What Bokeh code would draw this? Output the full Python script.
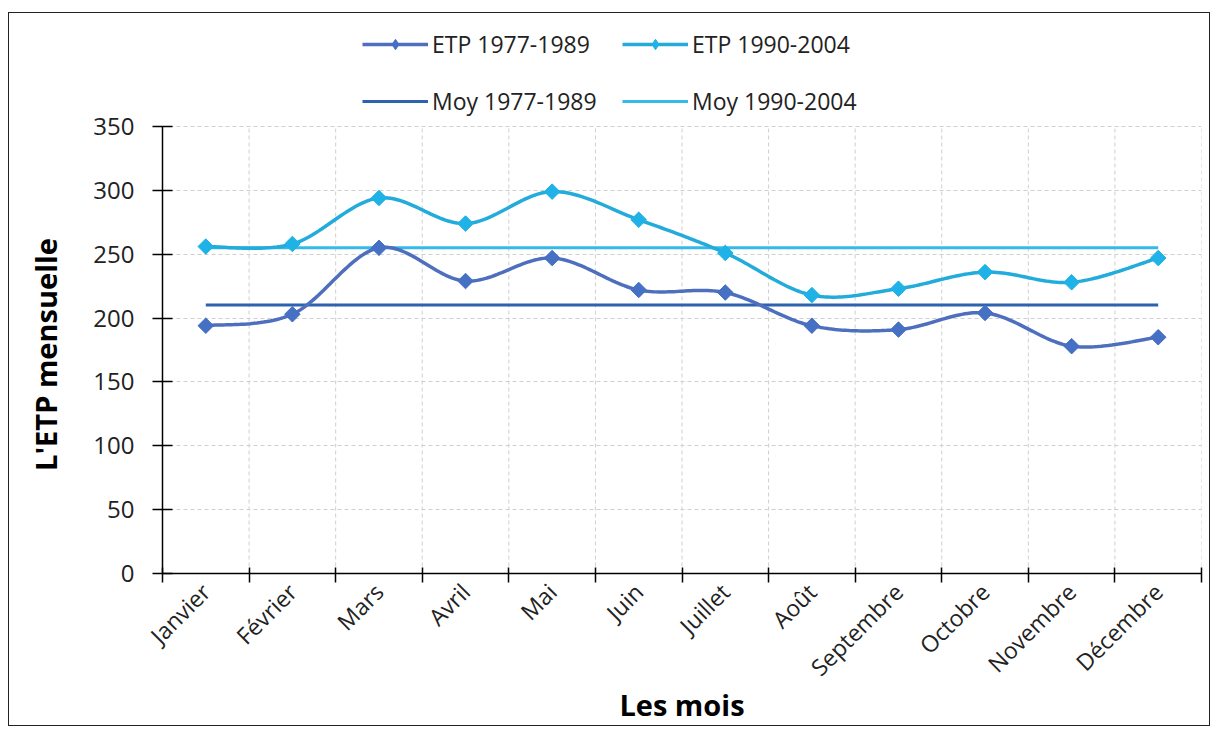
import numpy as np
from bokeh.plotting import figure
from bokeh.models import FixedTicker, Legend, LegendItem, Range1d
from bokeh.embed import file_html
from bokeh.resources import INLINE

months = ["Janvier", "Février", "Mars", "Avril", "Mai", "Juin", "Juillet",
          "Août", "Septembre", "Octobre", "Novembre", "Décembre"]
etp_1977_1989 = [194, 203, 255, 229, 247, 222, 220, 194, 191, 204, 178, 185]
etp_1990_2004 = [256, 258, 294, 274, 299, 277, 251, 218, 223, 236, 228, 247]
moy_1977_1989 = float(np.mean(etp_1977_1989))
moy_1990_2004 = float(np.mean(etp_1990_2004))
y_ticks = [0, 50, 100, 150, 200, 250, 300, 350]
y_max = 350

c_etp1 = "#4D6FBE"
c_etp2 = "#22ABDB"
c_moy1 = "#2C62B0"
c_moy2 = "#35B8EA"
c_mk1 = "#4570C4"
c_mk2 = "#1FB2E6"

FONT = "Open Sans"

x_pos = [i + 0.5 for i in range(len(months))]
x_bounds = list(range(len(months) + 1))

# layout (pixels)
FIG_W, FIG_H = 1202, 714
TOP, LEFT, RIGHT, BOTTOM = 9, 153, 10, 154
FRAME_H = FIG_H - TOP - BOTTOM          # frame includes the legend area
PLOT_H = 447                            # height of the 0..350 area
y_top = y_max * FRAME_H / PLOT_H


def smooth(xs, ys, n=30):
    # Catmull-Rom style Bezier smoothing (like spreadsheet "smoothed line")
    P = list(zip(xs, ys))
    out_x, out_y = [], []
    for i in range(len(P) - 1):
        p0 = P[i - 1] if i > 0 else P[i]
        p1 = P[i]
        p2 = P[i + 1]
        p3 = P[i + 2] if i + 2 < len(P) else P[i + 1]
        c1 = (p1[0] + (p2[0] - p0[0]) / 6, p1[1] + (p2[1] - p0[1]) / 6)
        c2 = (p2[0] - (p3[0] - p1[0]) / 6, p2[1] - (p3[1] - p1[1]) / 6)
        t = np.linspace(0, 1, n, endpoint=(i == len(P) - 2))
        bx = (1 - t) ** 3 * p1[0] + 3 * (1 - t) ** 2 * t * c1[0] + 3 * (1 - t) * t ** 2 * c2[0] + t ** 3 * p2[0]
        by = (1 - t) ** 3 * p1[1] + 3 * (1 - t) ** 2 * t * c1[1] + 3 * (1 - t) * t ** 2 * c2[1] + t ** 3 * p2[1]
        out_x.extend(bx.tolist())
        out_y.extend(by.tolist())
    return out_x, out_y


p = figure(width=FIG_W, height=FIG_H, output_backend="svg", toolbar_location=None,
           x_range=Range1d(0, 12), y_range=Range1d(0, y_top),
           min_border_left=LEFT, min_border_right=RIGHT, min_border_top=TOP,
           min_border_bottom=BOTTOM)
p.styles = {"margin-top": "12px", "margin-left": "8px",
            "border": "1px solid #222222"}
p.outline_line_color = None
p.background_fill_color = "white"
p.border_fill_color = "white"

GRID_COLOR = "#cfcfcf"
GRID_DASH = "4 3"

# horizontal grid
p.ygrid.ticker = FixedTicker(ticks=y_ticks)
p.ygrid.grid_line_color = GRID_COLOR
p.ygrid.grid_line_dash = GRID_DASH
p.ygrid.grid_line_width = 1

# vertical grid, limited to the 0..350 area
p.xgrid.visible = False
p.segment(x0=x_bounds, y0=[0] * len(x_bounds), x1=x_bounds,
          y1=[y_max] * len(x_bounds), line_color=GRID_COLOR,
          line_dash=GRID_DASH, line_width=1)

# x axis
p.xaxis.ticker = FixedTicker(ticks=x_pos, minor_ticks=x_bounds)
p.xaxis.major_label_overrides = {x: m for x, m in zip(x_pos, months)}
p.xaxis.major_label_orientation = np.pi / 4
p.xaxis.major_tick_line_color = None
p.xaxis.minor_tick_line_color = "black"
p.xaxis.minor_tick_line_width = 1.5
p.xaxis.minor_tick_in = 6
p.xaxis.minor_tick_out = 9
p.xaxis.axis_line_color = "black"
p.xaxis.axis_line_width = 1.5
p.xaxis.major_label_text_font = FONT
p.xaxis.major_label_text_font_size = "23px"
p.xaxis.major_label_text_color = "#222222"
p.xaxis.major_label_standoff = 5
p.xaxis.axis_label = "Les mois"
p.xaxis.axis_label_text_font = FONT
p.xaxis.axis_label_text_font_style = "bold"
p.xaxis.axis_label_text_font_size = "29px"
p.xaxis.axis_label_text_color = "black"
p.xaxis.axis_label_standoff = -12

# y axis
p.yaxis.ticker = FixedTicker(ticks=y_ticks)
p.yaxis.bounds = (0, y_max)
p.yaxis.major_tick_in = 10
p.yaxis.major_tick_out = 10
p.yaxis.major_tick_line_width = 1.5
p.yaxis.minor_tick_line_color = None
p.yaxis.axis_line_color = "black"
p.yaxis.axis_line_width = 1.5
p.yaxis.major_label_text_font = FONT
p.yaxis.major_label_text_font_size = "24px"
p.yaxis.major_label_text_color = "#222222"
p.yaxis.major_label_standoff = 18
# trailing no-break spaces keep the title centred on the 0..350 part of the axis
p.yaxis.axis_label = "L'ETP mensuelle" + "\u00a0" * 15
p.yaxis.axis_label_text_font = FONT
p.yaxis.axis_label_text_font_style = "bold"
p.yaxis.axis_label_text_font_size = "29px"
p.yaxis.axis_label_text_color = "black"
p.yaxis.axis_label_standoff = 25

# mean lines
r_moy1 = p.line([x_pos[0], x_pos[-1]], [moy_1977_1989, moy_1977_1989],
                line_color=c_moy1, line_width=3)
r_moy2 = p.line([x_pos[0], x_pos[-1]], [moy_1990_2004, moy_1990_2004],
                line_color=c_moy2, line_width=3)

# ETP series
sx1, sy1 = smooth(x_pos, etp_1977_1989)
sx2, sy2 = smooth(x_pos, etp_1990_2004)
r_l1 = p.line(sx1, sy1, line_color=c_etp1, line_width=3.5)
r_k1 = p.scatter(x_pos, etp_1977_1989, marker="diamond", size=14,
                 fill_color=c_mk1, line_color=c_mk1)
r_m1 = p.scatter(x_pos, etp_1977_1989, marker="square", size=11,
                 angle=np.pi / 4, fill_color=c_mk1, line_color=c_mk1)
r_l2 = p.line(sx2, sy2, line_color=c_etp2, line_width=3.5)
r_k2 = p.scatter(x_pos, etp_1990_2004, marker="diamond", size=14,
                 fill_color=c_mk2, line_color=c_mk2)
r_m2 = p.scatter(x_pos, etp_1990_2004, marker="square", size=11,
                 angle=np.pi / 4, fill_color=c_mk2, line_color=c_mk2)


def make_legend(items, loc):
    return Legend(items=items, location=loc, orientation="horizontal",
                  glyph_width=66, glyph_height=26, label_height=26,
                  label_width=190, label_standoff=4, spacing=0,
                  padding=0, margin=0, border_line_color=None,
                  background_fill_alpha=0,
                  label_text_font=FONT, label_text_font_size="23px",
                  label_text_color="#222222")


leg1 = make_legend([LegendItem(label="ETP 1977-1989", renderers=[r_l1, r_k1]),
                    LegendItem(label="ETP 1990-2004", renderers=[r_l2, r_k2])],
                   (200, 513))
leg2 = make_legend([LegendItem(label="Moy 1977-1989", renderers=[r_moy1]),
                    LegendItem(label="Moy 1990-2004", renderers=[r_moy2])],
                   (200, 456))
p.add_layout(leg1, "center")
p.add_layout(leg2, "center")

open("out.html", "w").write(file_html(p, INLINE))
